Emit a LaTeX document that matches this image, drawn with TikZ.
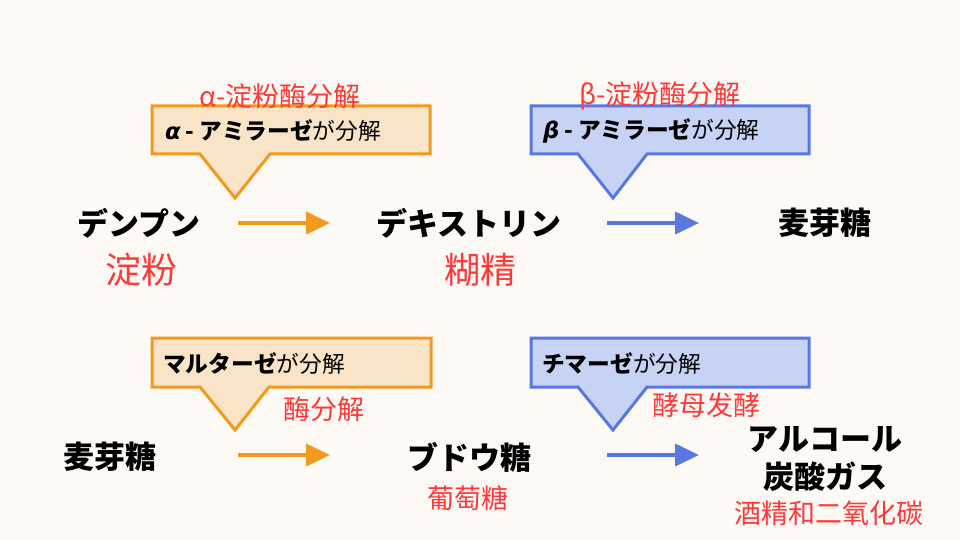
\documentclass[tikz,border=0pt]{standalone}
\usepackage{fontspec}
\setmainfont{Noto Sans CJK JP}
\newfontfamily\scfont{Noto Sans CJK SC}
\newfontfamily\grkfont{DejaVu Sans}
\usetikzlibrary{positioning}
\usetikzlibrary{arrows.meta}
\definecolor{bg}{RGB}{253, 250, 245}
\definecolor{oline}{RGB}{243, 154, 30}
\definecolor{ofill}{RGB}{249, 228, 200}
\definecolor{bline}{RGB}{88, 120, 224}
\definecolor{bfill}{RGB}{198, 211, 245}
\definecolor{redtxt}{RGB}{255, 56, 56}

\begin{document}
\begin{tikzpicture}[
  every node/.style={inner sep=0pt},
  word/.style={font=\fontsize{31}{36}\selectfont\bfseries},
  redword/.style={text=redtxt, font=\fontsize{27}{32}\selectfont\scfont},
  bigred/.style={text=redtxt, font=\fontsize{36}{40}\selectfont\scfont},
  boxtext/.style={anchor=west, font=\fontsize{22.7}{26}\selectfont},
  obox/.style={draw=oline, fill=ofill, line width=3pt, line join=miter},
  bbox/.style={draw=bline, fill=bfill, line width=3pt, line join=miter},
  oarrow/.style={draw=oline, line width=4pt, -{Triangle[length=24pt, width=22pt]}},
  barrow/.style={draw=bline, line width=4pt, -{Triangle[length=24pt, width=22pt]}}
]
\useasboundingbox [fill=bg] (0pt, 0pt) rectangle (960pt, -540pt);
% callouts
\draw [obox] (152pt, -106pt) -- (430pt, -106pt) -- (430pt, -154pt) -- (270pt, -154pt) -- (235pt, -198pt) -- (200pt, -154pt) -- (152pt, -154pt) -- cycle;
\draw [bbox] (531pt, -106pt) -- (809pt, -106pt) -- (809pt, -154pt) -- (647pt, -154pt) -- (613pt, -198pt) -- (578pt, -154pt) -- (531pt, -154pt) -- cycle;
\draw [obox] (152pt, -338pt) -- (431pt, -338pt) -- (431pt, -387pt) -- (269pt, -387pt) -- (235pt, -430pt) -- (200pt, -387pt) -- (152pt, -387pt) -- cycle;
\draw [bbox] (531pt, -338pt) -- (809pt, -338pt) -- (809pt, -387pt) -- (647pt, -387pt) -- (613pt, -430pt) -- (578pt, -387pt) -- (531pt, -387pt) -- cycle;
% callout texts
\node (t1) [boxtext] at (165pt, -131pt) {\textbf{{\grkfont\itshape α} - アミラーゼ}が分解};
\node (t2) [boxtext] at (543pt, -131pt) {\textbf{{\grkfont\itshape β} - アミラーゼ}が分解};
\node (t3) [boxtext] at (163pt, -363pt) {\textbf{マルターゼ}が分解};
\node (t4) [boxtext] at (542pt, -363pt) {\textbf{チマーゼ}が分解};
% red notes
\node (n1) [redword] at (280pt, -96pt) {α-淀粉酶分解};
\node (n2) [redword] at (660pt, -96pt) {β-淀粉酶分解};
\node (n3) [redword] at (324pt, -409pt) {酶分解};
\node (n4) [redword] at (706pt, -405pt) {酵母发酵};
% top row
\node (starch) [word] at (139pt, -223pt) {デンプン};
\node (starchcn) [bigred] at (141pt, -270pt) {淀粉};
\node (dextrin) [word] at (469pt, -223pt) {デキストリン};
\node (dextrincn) [bigred] at (480pt, -270pt) {糊精};
\node (maltose) [word] at (825pt, -223pt) {麦芽糖};
% bottom row
\node (maltose2) [word] at (110pt, -457pt) {麦芽糖};
\node (glucose) [word] at (469pt, -457pt) {ブドウ糖};
\node (glucosecn) [redword] at (468pt, -498pt) {葡萄糖};
\node (alcohol) [word] at (825pt, -440pt) {アルコール};
\node (cotwo) [word] at (825pt, -477pt) {炭酸ガス};
\node (alcoholcn) [redword] at (829pt, -513pt) {酒精和二氧化碳};
% arrows
\coordinate (a1s) at (238pt, -223pt);
\coordinate (a1e) at (330pt, -223pt);
\coordinate (a2s) at (607pt, -223pt);
\coordinate (a2e) at (699pt, -223pt);
\coordinate (a3s) at (238pt, -455pt);
\coordinate (a3e) at (330pt, -455pt);
\coordinate (a4s) at (607pt, -455pt);
\coordinate (a4e) at (699pt, -455pt);
\draw [oarrow] (a1s) -- (a1e);
\draw [barrow] (a2s) -- (a2e);
\draw [oarrow] (a3s) -- (a3e);
\draw [barrow] (a4s) -- (a4e);
\end{tikzpicture}
\end{document}
